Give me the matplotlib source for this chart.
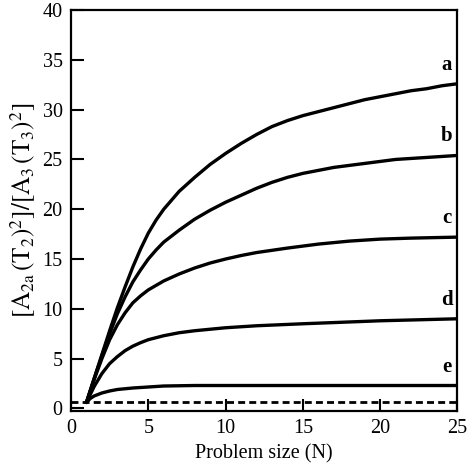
import matplotlib
matplotlib.use("Agg")
import matplotlib.pyplot as plt

# values
n_a = [1, 1.5, 2, 2.5, 3, 3.5, 4, 4.5, 5, 5.5, 6, 7, 8, 9, 10, 11, 12, 13, 14,
       15, 16, 17, 18, 19, 20, 21, 22, 23, 24, 25]
ratio_a = [0.6, 3.0, 5.4, 7.8, 10.1, 12.2, 14.2, 16.0, 17.6, 18.9, 20.0, 21.8,
           23.2, 24.5, 25.6, 26.6, 27.5, 28.3, 28.9, 29.4, 29.8, 30.2, 30.6,
           31.0, 31.3, 31.6, 31.9, 32.1, 32.4, 32.6]

n_b = n_a
ratio_b = [0.6, 3.0, 5.3, 7.5, 9.5, 11.2, 12.7, 13.9, 15.0, 15.9, 16.7, 17.9,
           19.0, 19.9, 20.7, 21.4, 22.1, 22.7, 23.2, 23.6, 23.9, 24.2, 24.4,
           24.6, 24.8, 25.0, 25.1, 25.2, 25.3, 25.4]

n_c = [1, 1.5, 2, 2.5, 3, 3.5, 4, 4.5, 5, 6, 7, 8, 9, 10, 11, 12, 14, 16, 18,
       20, 22, 25]
ratio_c = [0.6, 2.9, 5.0, 6.9, 8.4, 9.6, 10.6, 11.3, 11.9, 12.8, 13.5, 14.1,
           14.6, 15.0, 15.35, 15.65, 16.1, 16.5, 16.8, 17.0, 17.1, 17.2]

n_d = [1, 1.5, 2, 2.5, 3, 3.5, 4, 4.5, 5, 6, 7, 8, 10, 12, 15, 20, 25]
ratio_d = [0.6, 2.2, 3.5, 4.5, 5.2, 5.8, 6.25, 6.6, 6.9, 7.3, 7.6, 7.8, 8.1,
           8.3, 8.5, 8.8, 9.0]

n_e = [1, 1.25, 1.5, 2, 2.5, 3, 4, 5, 6, 8, 25]
ratio_e = [0.6, 1.0, 1.25, 1.55, 1.75, 1.9, 2.05, 2.15, 2.25, 2.3, 2.3]

baseline = 0.65

curves = [("a", n_a, ratio_a), ("b", n_b, ratio_b), ("c", n_c, ratio_c),
          ("d", n_d, ratio_d), ("e", n_e, ratio_e)]

plt.rcParams["font.family"] = ["Liberation Serif", "DejaVu Serif"]
plt.rcParams["mathtext.fontset"] = "stix"

fig = plt.figure(figsize=(4.71, 4.68), dpi=100)
ax = fig.add_axes([0.1507, 0.122, 0.8206, 0.8565])

for name, xs, ys in curves:
    ax.plot(xs, ys, color="black", lw=2.4, solid_capstyle="round",
            solid_joinstyle="round")
    ax.text(24.3, ys[-1] + 0.9, name, fontsize=15, fontweight="bold",
            ha="center", va="bottom")

ax.axhline(baseline, color="black", lw=2.0, ls=(0, (2.5, 1.5)))

ax.set_xlim(0, 25)
ax.set_ylim(-0.25, 40)
ax.set_xticks([0, 5, 10, 15, 20, 25])
ax.set_yticks([0, 5, 10, 15, 20, 25, 30, 35, 40])
ax.tick_params(direction="in", length=9, width=1.5, labelsize=14.5, pad=6)

for s in ax.spines.values():
    s.set_linewidth(1.6)

ax.set_xlabel("Problem size (N)", fontsize=14.5, labelpad=4)
ax.set_ylabel(r"$[\mathrm{A}_{\mathrm{2a}}\,(\mathrm{T}_2)^2]/[\mathrm{A}_3\,(\mathrm{T}_3)^2]$",
              fontsize=18, labelpad=3)

fig.savefig("out.png", dpi=100)
